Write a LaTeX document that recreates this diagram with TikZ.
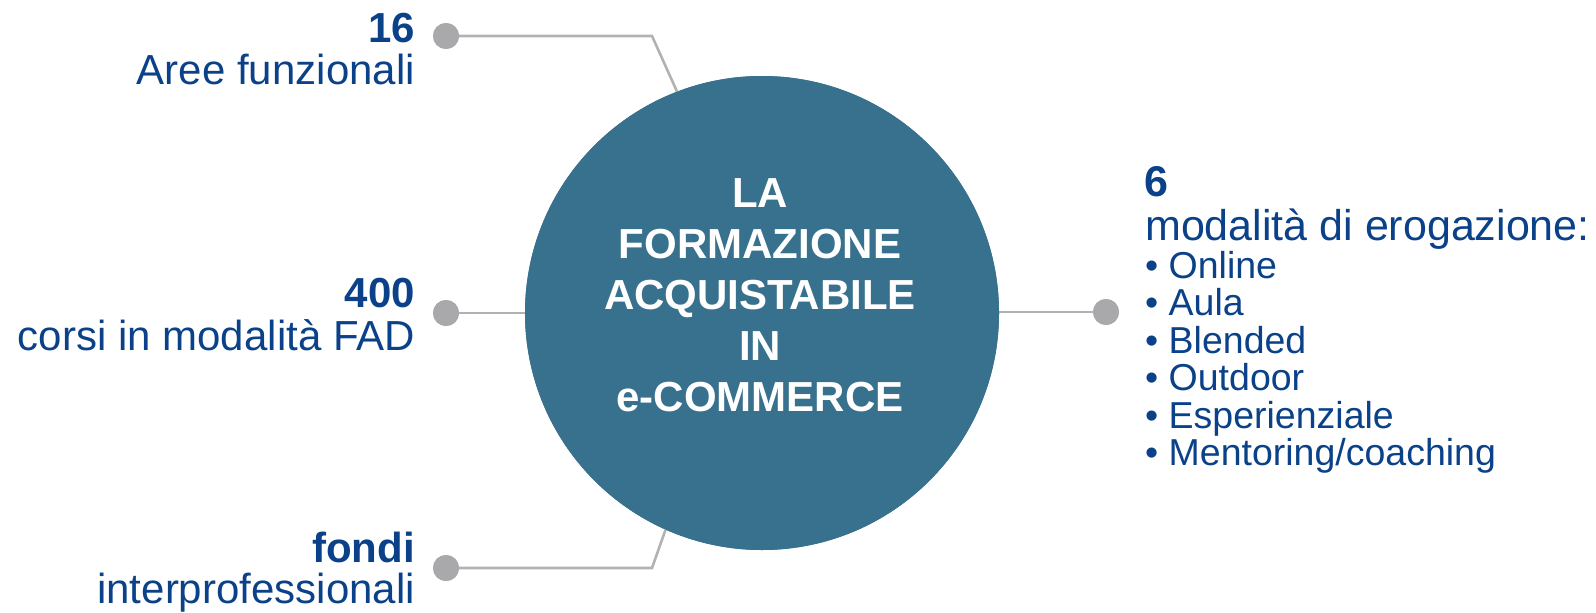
\documentclass[tikz,border=0pt]{standalone}
\usepackage{fontspec}
\setmainfont{Liberation Sans}
\definecolor{circblue}{HTML}{38718D}
\definecolor{txtblue}{HTML}{0A4188}
\definecolor{dotgray}{HTML}{A9A9AB}
\definecolor{linegray}{HTML}{B2B2B2}
\tikzset{
  dotnode/.style={circle,fill=dotgray,inner sep=0pt,minimum size=26pt},
  conn/.style={draw=linegray,line width=2.6pt},
  lefttxt/.style={anchor=base east,inner sep=0pt,text=txtblue,font=\fontsize{42}{43}\selectfont},
  leftnum/.style={lefttxt,font=\fontsize{42}{43}\selectfont\bfseries},
  righttxt/.style={anchor=base west,inner sep=0pt,text=txtblue,font=\fontsize{43}{44}\selectfont},
  rightnum/.style={righttxt,font=\fontsize{43}{44}\selectfont\bfseries},
  bullettxt/.style={anchor=base west,inner sep=0pt,text=txtblue,font=\fontsize{37.5}{38}\selectfont},
  circtxt/.style={anchor=base,inner sep=0pt,text=white,font=\fontsize{42}{51}\selectfont\bfseries},
  bigcirc/.style={circle,fill=circblue,inner sep=0pt,minimum size=474pt}
}
\begin{document}
\begin{tikzpicture}[x=1pt,y=-1pt]
\useasboundingbox (0,0) rectangle (1596,613);
\node[dotnode] (d1) at (446,36) {};
\node[dotnode] (d2) at (446,313) {};
\node[dotnode] (d3) at (446,568) {};
\node[dotnode] (d4) at (1106,312) {};
\node[bigcirc] (c) at (762,313) {};
\coordinate (k1) at (652,36);
\coordinate (k3) at (652,568);
\draw[conn] (d1.center) -- (k1) -- (c.111.5);
\draw[conn] (d3.center) -- (k3) -- (c.246.5);
\draw[conn] (d2.center) -- (c.west |- d2);
\draw[conn] (d4.center) -- (c.east |- d4);
\node[bigcirc] (c2) at (c) {};
\node[dotnode] (e1) at (d1) {};
\node[dotnode] (e2) at (d2) {};
\node[dotnode] (e3) at (d3) {};
\node[dotnode] (e4) at (d4) {};
% circle text
\node[circtxt] (t1) at (760,207) {LA};
\node[circtxt] (t2) at (760,258) {FORMAZIONE};
\node[circtxt] (t3) at (760,309) {ACQUISTABILE};
\node[circtxt] (t4) at (760,360) {IN};
\node[circtxt] (t5) at (760,411) {e-COMMERCE};
% left texts
\node[leftnum] (n1) at (415,42) {16};
\node[lefttxt] (l1) at (415,84) {Aree funzionali};
\node[leftnum] (n2) at (415,307) {400};
\node[lefttxt] (l2) at (415,350) {corsi in modalità FAD};
\node[leftnum] (n3) at (415,562) {fondi};
\node[lefttxt] (l3) at (415,603) {interprofessionali};
% right texts
\node[rightnum] (n4) at (1144,196) {6};
\node[righttxt] (r0) at (1145,240) {modalità di erogazione:};
\node[bullettxt] (b1) at (1145,278) {• Online};
\node[bullettxt] (b2) at (1145,315.5) {• Aula};
\node[bullettxt] (b3) at (1145,353) {• Blended};
\node[bullettxt] (b4) at (1145,390.5) {• Outdoor};
\node[bullettxt] (b5) at (1145,428) {• Esperienziale};
\node[bullettxt] (b6) at (1145,465.5) {• Mentoring/coaching};
\end{tikzpicture}
\end{document}
